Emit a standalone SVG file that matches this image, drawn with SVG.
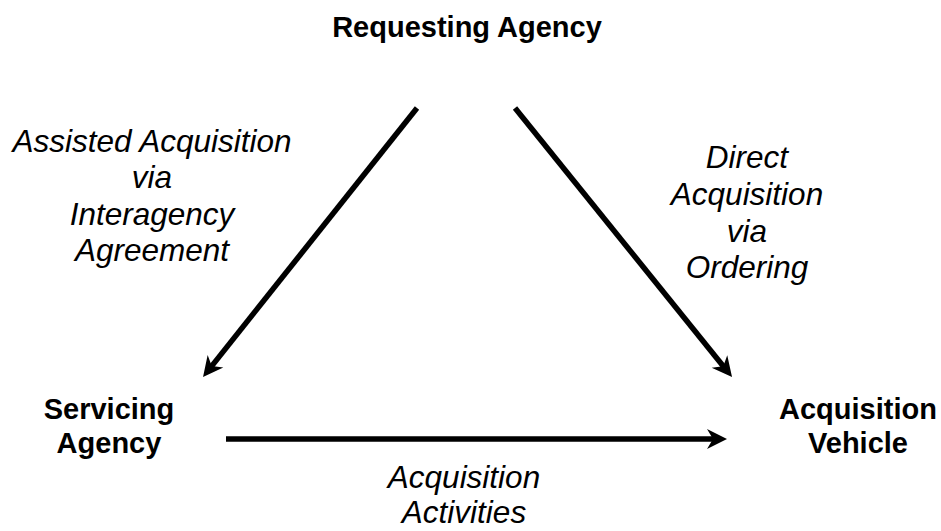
<svg xmlns="http://www.w3.org/2000/svg" width="941" height="531" viewBox="0 0 941 531">
<style>
.b{font-family:"Liberation Sans",Arial,sans-serif;font-weight:bold;font-size:29px;fill:#000;text-anchor:middle}
.i{font-family:"Liberation Sans",Arial,sans-serif;font-style:italic;font-size:31.5px;fill:#000;text-anchor:middle}
.c{stroke:#000;stroke-width:5.5;fill:none;marker-end:url(#ah)}
</style>
<defs>
<marker id="ah" markerUnits="userSpaceOnUse" markerWidth="22" markerHeight="22" viewBox="0 -11 22 22" refX="8" refY="0" orient="auto" overflow="visible">
<path d="M0,-10 L20,0 L0,10 L6,0 Z" fill="#000"/>
</marker>
</defs>
<rect width="941" height="531" fill="#fff"/>
<g id="requesting-agency"><text class="b" x="467" y="37">Requesting Agency</text></g>
<g id="servicing-agency"><text class="b" x="109" y="419">Servicing</text><text class="b" x="109" y="453">Agency</text></g>
<g id="acquisition-vehicle"><text class="b" x="858" y="419">Acquisition</text><text class="b" x="858" y="453">Vehicle</text></g>
<g id="connectors">
<line class="c" x1="417" y1="108" x2="210.5" y2="367.6"/>
<line class="c" x1="515" y1="108" x2="724.5" y2="367.7"/>
<line class="c" x1="226" y1="439" x2="715" y2="439"/>
</g>
<g id="labels">
<text class="i" x="152" y="151.5">Assisted Acquisition</text>
<text class="i" x="152" y="188">via</text>
<text class="i" x="152" y="224.5">Interagency</text>
<text class="i" x="152" y="261">Agreement</text>
<text class="i" x="747" y="168">Direct</text>
<text class="i" x="747" y="205">Acquisition</text>
<text class="i" x="747" y="241.5">via</text>
<text class="i" x="747" y="278">Ordering</text>
<text class="i" x="464" y="488">Acquisition</text>
<text class="i" x="464" y="523">Activities</text>
</g>
</svg>
